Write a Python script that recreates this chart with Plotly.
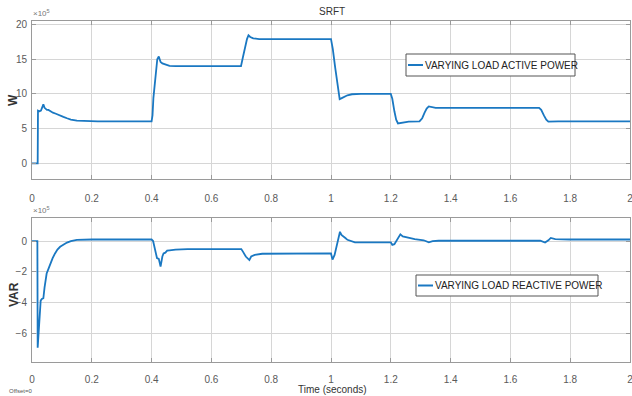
import plotly.graph_objects as go

# ---- data (values in units of 1e5) ----
t_p = [0, 0.019, 0.020, 0.025, 0.030, 0.034, 0.038, 0.042, 0.046, 0.050, 0.055, 0.060,
       0.070, 0.080, 0.094, 0.105, 0.117, 0.130, 0.150, 0.180, 0.220, 0.400, 0.403,
       0.406, 0.413, 0.419, 0.424, 0.430, 0.436, 0.442, 0.450, 0.460, 0.480, 0.699,
       0.705, 0.712, 0.719, 0.724, 0.730, 0.740, 0.760, 1.000, 1.006, 1.014, 1.022,
       1.029, 1.036, 1.045, 1.055, 1.070, 1.100, 1.200, 1.205, 1.212, 1.218, 1.224,
       1.235, 1.260, 1.296, 1.305, 1.313, 1.320, 1.327, 1.335, 1.350, 1.696, 1.703,
       1.712, 1.720, 1.727, 1.740, 1.760, 2.0]
p_val = [0, 0, 7.6, 7.5, 7.6, 8.1, 8.5, 8.0, 7.9, 7.7, 7.7, 7.55,
         7.3, 7.15, 6.95, 6.7, 6.5, 6.3, 6.15, 6.1, 6.05, 6.05, 6.9,
         9.4, 13.0, 15.0, 15.4, 14.6, 14.4, 14.3, 14.15, 14.05, 14.0, 14.0,
         15.2, 16.8, 17.9, 18.45, 18.2, 18.0, 17.9, 17.9, 16.5, 13.8, 11.0,
         9.25, 9.4, 9.6, 9.8, 9.95, 10.0, 10.0, 9.3, 7.5, 6.3, 5.75,
         5.85, 6.0, 6.05, 6.5, 7.3, 7.9, 8.2, 8.1, 8.0, 8.0, 7.7,
         6.9, 6.3, 6.0, 6.05, 6.05, 6.05]

t_q = [0, 0.018, 0.019, 0.022, 0.026, 0.029, 0.033, 0.038, 0.042, 0.046, 0.049, 0.055,
       0.061, 0.069, 0.077, 0.085, 0.094, 0.105, 0.117, 0.130, 0.150, 0.200, 0.400,
       0.405, 0.412, 0.418, 0.424, 0.430, 0.436, 0.440, 0.446, 0.452, 0.460, 0.480,
       0.520, 0.700, 0.706, 0.715, 0.727, 0.733, 0.745, 0.770, 1.000, 1.005, 1.012,
       1.020, 1.030, 1.035, 1.040, 1.048, 1.055, 1.065, 1.080, 1.200, 1.205, 1.212,
       1.222, 1.232, 1.240, 1.255, 1.280, 1.310, 1.327, 1.340, 1.360, 1.700, 1.707,
       1.716, 1.727, 1.735, 1.750, 1.800, 2.0]
q_val = [0, 0, -6.9, -6.0, -4.6, -3.85, -3.75, -3.7, -3.0, -2.3, -2.1, -1.8,
         -1.45, -1.1, -0.8, -0.55, -0.37, -0.22, -0.1, 0.0, 0.07, 0.1, 0.1,
         0.0, -0.5, -1.1, -1.15, -1.65, -1.0, -0.8, -0.75, -0.62, -0.6, -0.55,
         -0.52, -0.52, -0.7, -1.0, -1.23, -1.0, -0.9, -0.82, -0.8, -1.2, -0.9,
         -0.2, 0.6, 0.4, 0.3, 0.2, 0.08, 0.0, -0.08, -0.08, -0.25, -0.2,
         0.1, 0.43, 0.3, 0.22, 0.12, 0.05, -0.08, 0.0, 0.02, 0.02, -0.05,
         -0.1, 0.05, 0.2, 0.13, 0.1, 0.1]

series_names = ["VARYING LOAD ACTIVE POWER", "VARYING LOAD REACTIVE POWER"]

x_ticks = [0, 0.2, 0.4, 0.6, 0.8, 1, 1.2, 1.4, 1.6, 1.8, 2]
x_tick_text = ["0", "0.2", "0.4", "0.6", "0.8", "1", "1.2", "1.4", "1.6", "1.8", "2"]
p_ticks = [0, 5, 10, 15, 20]
q_ticks = [-6, -4, -2, 0]

LINE = "#1a78c2"
GRID = "#d6d6d6"
FRAME = "#9a9a9a"
TICKC = "#5a5a5a"
FONT = "Liberation Sans, Arial, sans-serif"

W, H = 632, 396
ML, MR, MT, MB = 32, 2, 21, 34

fig = go.Figure()
fig.add_trace(go.Scatter(x=t_p, y=p_val, mode="lines", name=series_names[0],
                         line=dict(color=LINE, width=1.8), xaxis="x", yaxis="y",
                         showlegend=False))
fig.add_trace(go.Scatter(x=t_q, y=q_val, mode="lines", name=series_names[1],
                         line=dict(color=LINE, width=1.8), xaxis="x2", yaxis="y2",
                         showlegend=False))

axis_common = dict(showline=True, linecolor=FRAME, linewidth=1, mirror="ticks",
                   ticks="inside", ticklen=4, tickcolor=FRAME, showgrid=True,
                   gridcolor=GRID, gridwidth=1, zeroline=False, automargin=False,
                   ticklabeloverflow="allow",
                   tickfont=dict(family=FONT, size=10, color=TICKC))


def px_y(y):
    return (H - MB - y) / (H - MT - MB)


def px_x(x):
    return (x - ML) / (W - ML - MR)


fig.update_layout(
    width=W, height=H,
    margin=dict(l=ML, r=MR, t=MT, b=MB, autoexpand=False),
    paper_bgcolor="white", plot_bgcolor="white",
    showlegend=False,
    xaxis=dict(domain=[0, 1], range=[0, 2], tickvals=x_ticks, ticktext=x_tick_text,
               anchor="y", ticklabelstandoff=10, **axis_common),
    yaxis=dict(domain=[px_y(179), 1], range=[-2.25, 20.5], tickvals=p_ticks,
               anchor="x", ticklabelstandoff=2, **axis_common),
    xaxis2=dict(domain=[0, 1], range=[0, 2], tickvals=x_ticks, ticktext=x_tick_text,
                anchor="y2", ticklabelstandoff=8, **axis_common),
    yaxis2=dict(domain=[0, px_y(217.7)], range=[-7.82, 1.51], tickvals=q_ticks,
                anchor="x2", ticklabelstandoff=2, **axis_common),
)

# legend boxes (drawn like the MATLAB legends)
legend_specs = [
    dict(name=series_names[0], x0=406, x1=575, y0=54, y1=76, lx0=408, lx1=423),
    dict(name=series_names[1], x0=416, x1=598, y0=275, y1=296, lx0=418, lx1=433),
]
for spec in legend_specs:
    ym = (spec["y0"] + spec["y1"]) / 2
    fig.add_shape(type="rect", xref="paper", yref="paper",
                  x0=px_x(spec["x0"]), x1=px_x(spec["x1"]),
                  y0=px_y(spec["y1"]), y1=px_y(spec["y0"]),
                  fillcolor="white", line=dict(color="#555555", width=1), layer="above")
    fig.add_shape(type="line", xref="paper", yref="paper",
                  x0=px_x(spec["lx0"]), x1=px_x(spec["lx1"]),
                  y0=px_y(ym), y1=px_y(ym),
                  line=dict(color=LINE, width=2), layer="above")
    fig.add_annotation(xref="paper", yref="paper", showarrow=False,
                       text=spec["name"], x=px_x(spec["lx1"]), y=px_y(ym),
                       xanchor="left", yanchor="middle",
                       font=dict(family=FONT, size=10, color="#222222"))

ann_font_small = dict(family=FONT, size=8, color="#777777")
annots = [
    dict(text="SRFT", x=px_x(332), y=px_y(11), xanchor="center",
         font=dict(family=FONT, size=10, color="#333333")),
    dict(text="×10<sup>5</sup>", x=px_x(31), y=px_y(13), xanchor="left", font=ann_font_small),
    dict(text="×10<sup>5</sup>", x=px_x(31), y=px_y(210), xanchor="left", font=ann_font_small),
    dict(text="<b>W</b>", x=px_x(13), y=px_y(100), textangle=-90, xanchor="center",
         font=dict(family=FONT, size=12, color="#333333")),
    dict(text="<b>VAR</b>", x=px_x(14), y=px_y(295), textangle=-90, xanchor="center",
         font=dict(family=FONT, size=12, color="#333333")),
    dict(text="Time (seconds)", x=px_x(332), y=px_y(389), xanchor="center",
         font=dict(family=FONT, size=10, color="#333333")),
    dict(text="Offset=0", x=px_x(7), y=px_y(391), xanchor="left",
         font=dict(family=FONT, size=6, color="#555555")),
]
for a in annots:
    fig.add_annotation(xref="paper", yref="paper", showarrow=False, yanchor="middle", **a)

fig.write_html("out.html",
               config={"displayModeBar": False},
               post_script="document.body.style.margin='0';"
                           "document.body.style.overflow='hidden';")
